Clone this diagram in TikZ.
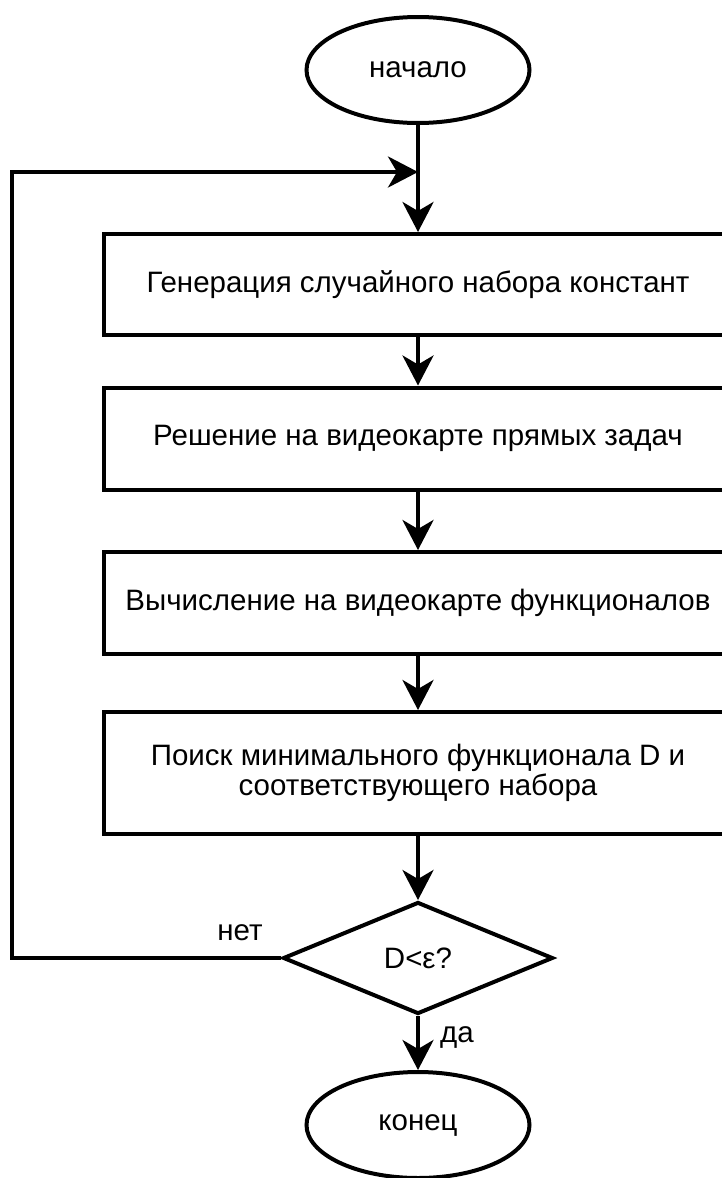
\documentclass[tikz,border=0pt]{standalone}
\usepackage{fontspec}
\setmainfont{Liberation Sans}
\usetikzlibrary{shapes.geometric,arrows.meta}
\begin{document}
\begin{tikzpicture}[x=1pt,y=-1pt,
  every node/.style={font=\fontsize{29.5}{30}\selectfont},
  term/.style={draw,ellipse,line width=4pt,minimum width=223pt,minimum height=106pt,inner sep=0pt},
  proc/.style={draw,rectangle,line width=4pt,minimum width=628pt,inner sep=0pt,align=center},
  dec/.style={draw,diamond,line width=4pt,minimum width=270pt,minimum height=112pt,inner sep=0pt},
  flow/.style={line width=4pt,-{Stealth[length=30pt,width=31pt,inset=9pt]}},
  conn/.style={line width=4pt}
]
\useasboundingbox (0,0) rectangle (722,1178);
\clip (0,0) rectangle (722,1178);
\node[term] (start) at (418,70) {начало};
\node[proc, minimum height=101pt] (p1) at (418,284.5) {Генерация случайного набора констант};
\node[proc, minimum height=102pt] (p2) at (418,438.5) {Решение на видеокарте прямых задач};
\node[proc, minimum height=102pt] (p3) at (418,603) {Вычисление на видеокарте функционалов};
\node[proc, minimum height=122pt] (p4) at (418,773) {Поиск минимального функционала D и\\соответствующего набора};
\node[dec] (d) at (418,958) {D<ε?};
\node[term] (end) at (418,1125) {конец};
\coordinate (j) at (418,172);
\coordinate (lb) at (12,958);
\coordinate (lt) at (12,172);
\node (no) at (240,933) {нет};
\node (yes) at (457,1037) {да};
\draw[flow] (start) -- (p1);
\draw[flow] (p1) -- (p2);
\draw[flow] (p2) -- (p3);
\draw[flow] (p3) -- (p4);
\draw[flow] (p4) -- (d);
\draw[flow] (d) -- (end);
\draw[flow] (d.west) -- (lb) -- (lt) -- (j);
\end{tikzpicture}
\end{document}
